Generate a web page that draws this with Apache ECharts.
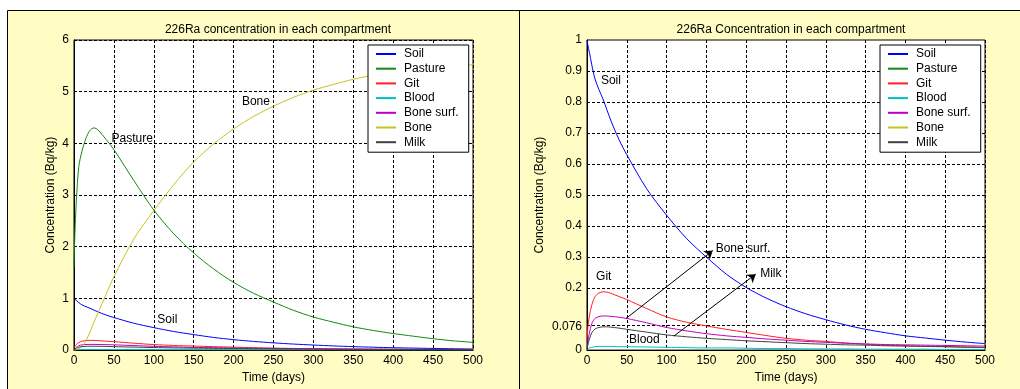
<!DOCTYPE html>
<html>
<head>
<meta charset="utf-8">
<script src="https://cdn.jsdelivr.net/npm/echarts@6/dist/echarts.min.js"></script>
<style>
  html, body { margin: 0; padding: 0; background: #fff; }
  #chart { width: 1020px; height: 389px; }
</style>
</head>
<body>
<div id="chart"></div>
<script>
// time axis (days)
var time = [0, 1, 3, 6, 10, 15, 20, 25, 30, 40, 50, 75, 100, 125, 150, 175, 200, 225, 250, 275, 300, 325, 350, 375, 400, 425, 450, 475, 500];

// concentrations (Bq/kg)
var soil     = [1.0, 0.985, 0.96, 0.92, 0.875, 0.84, 0.81, 0.775, 0.74, 0.68, 0.63, 0.52, 0.435, 0.36, 0.3, 0.245, 0.202, 0.168, 0.14, 0.117, 0.098, 0.081, 0.067, 0.056, 0.046, 0.039, 0.032, 0.026, 0.021];
var pasture  = [1.6, 2.2, 2.9, 3.55, 3.85, 4.1, 4.25, 4.3, 4.26, 4.08, 3.88, 3.28, 2.71, 2.25, 1.88, 1.57, 1.31, 1.1, 0.93, 0.77, 0.64, 0.54, 0.45, 0.38, 0.32, 0.27, 0.22, 0.18, 0.15];
var git      = [0.03, 0.07, 0.11, 0.145, 0.172, 0.184, 0.188, 0.187, 0.183, 0.173, 0.163, 0.134, 0.107, 0.09, 0.078, 0.067, 0.057, 0.047, 0.038, 0.032, 0.028, 0.023, 0.019, 0.016, 0.014, 0.012, 0.011, 0.009, 0.008];
var blood    = [0, 0.004, 0.007, 0.009, 0.011, 0.012, 0.012, 0.012, 0.012, 0.011, 0.011, 0.01, 0.009, 0.008, 0.007, 0.007, 0.006, 0.005, 0.005, 0.004, 0.004, 0.004, 0.003, 0.003, 0.003, 0.003, 0.002, 0.002, 0.002];
var boneSurf = [0.005, 0.025, 0.055, 0.085, 0.102, 0.108, 0.11, 0.11, 0.109, 0.106, 0.102, 0.088, 0.073, 0.062, 0.053, 0.046, 0.041, 0.036, 0.032, 0.028, 0.025, 0.022, 0.02, 0.018, 0.017, 0.016, 0.015, 0.014, 0.013];
var bone     = [0, 0, 0.01, 0.03, 0.07, 0.18, 0.35, 0.54, 0.72, 1.07, 1.42, 2.15, 2.7, 3.2, 3.64, 3.99, 4.28, 4.52, 4.72, 4.89, 5.03, 5.14, 5.24, 5.32, 5.38, 5.43, 5.47, 5.5, 5.52];
var milk     = [0.002, 0.015, 0.035, 0.056, 0.068, 0.073, 0.075, 0.075, 0.074, 0.071, 0.067, 0.058, 0.049, 0.043, 0.038, 0.034, 0.03, 0.027, 0.024, 0.021, 0.019, 0.017, 0.016, 0.014, 0.013, 0.012, 0.011, 0.01, 0.009];

var legendNames = ['Soil', 'Pasture', 'Git', 'Blood', 'Bone surf.', 'Bone', 'Milk'];
var rightYTicks = [0, 0.076, 0.2, 0.3, 0.4, 0.5, 0.6, 0.7, 0.8, 0.9, 1];

var colors = {
  'Soil': '#0000ff',
  'Pasture': '#138a13',
  'Git': '#ff2020',
  'Blood': '#00bfbf',
  'Bone surf.': '#c000c0',
  'Bone': '#c4c41a',
  'Milk': '#404040'
}

var font = 'Liberation Sans, Arial, sans-serif'
var dash = [3, 2]

function pairs (vals) {
  return time.map(function (t, i) { return [t, vals[i]] })
}

function line (name, vals, idx, extra) {
  var s = {
    name: name,
    type: 'line',
    xAxisIndex: idx,
    yAxisIndex: idx,
    data: pairs(vals),
    symbol: 'none',
    smooth: 0.3,
    clip: true,
    color: colors[name],
    itemStyle: { color: colors[name] },
    lineStyle: { width: 1, color: colors[name] }
  }
  return Object.assign(s, extra || {})
}

function note (items) {
  return {
    symbol: 'circle',
    symbolSize: 0,
    silent: true,
    label: {
      show: true,
      position: 'inside',
      color: '#000',
      fontSize: 12,
      fontFamily: font,
      formatter: function (p) { return p.name }
    },
    data: items
  }
}

var gridLine = { show: true, lineStyle: { color: '#000', width: 1, type: dash } }
var axisLabel = { color: '#000', fontSize: 12, fontFamily: font, margin: 5 }
var axisLine = { show: true, onZero: false, lineStyle: { color: '#000' } }

function legend (left) {
  return {
    data: legendNames,
    orient: 'vertical',
    left: left,
    top: 45,
    itemWidth: 20,
    itemHeight: 12,
    itemGap: 2.7,
    padding: [3, 10, 4, 7],
    backgroundColor: '#fff',
    borderColor: '#000',
    borderWidth: 1,
    selectedMode: false,
    itemStyle: { opacity: 0 },
    lineStyle: { width: 2 },
    textStyle: { color: '#000', fontSize: 12, fontFamily: font, padding: [0, 0, 0, 3] }
  }
}

var chart = echarts.init(document.getElementById('chart'))

var option = {
  animation: false,
  backgroundColor: '#fff',
  graphic: [
    { type: 'rect', z: -10, shape: { x: 7.5, y: 10.5, width: 1020, height: 390 }, style: { fill: '#fffdc4', stroke: '#000', lineWidth: 1 } },
    { type: 'line', z: -9, shape: { x1: 519.5, y1: 10, x2: 519.5, y2: 389 }, style: { stroke: '#000', lineWidth: 1 } }
  ],
  title: [
    { text: '226Ra concentration in each compartment', left: 273, top: 19, textAlign: 'center',
      textStyle: { fontSize: 12, fontWeight: 'normal', color: '#000', fontFamily: font } },
    { text: '226Ra Concentration in each compartment', left: 786, top: 19, textAlign: 'center',
      textStyle: { fontSize: 12, fontWeight: 'normal', color: '#000', fontFamily: font } }
  ],
  legend: [legend(368), legend(880)],
  grid: [
    { left: 74, top: 40, width: 399, height: 313, show: true, backgroundColor: '#fff', borderColor: '#000', borderWidth: 1 },
    { left: 587, top: 40, width: 398, height: 313, show: true, backgroundColor: '#fff', borderColor: '#000', borderWidth: 1 }
  ],
  xAxis: [0, 1].map(function (i) {
    return {
      type: 'value', gridIndex: i, min: 0, max: 500, interval: 50,
      name: 'Time (days)', nameLocation: 'middle', nameGap: 21,
      nameTextStyle: { color: '#000', fontSize: 12, fontFamily: font },
      axisLine: axisLine, axisTick: { show: false }, axisLabel: axisLabel, splitLine: gridLine
    }
  }),
  yAxis: [
    {
      type: 'value', gridIndex: 0, min: 0, max: 6, interval: 1,
      name: 'Concentration (Bq/kg)', nameLocation: 'middle', nameGap: 17,
      nameTextStyle: { color: '#000', fontSize: 12, fontFamily: font },
      axisLine: axisLine, axisTick: { show: false }, axisLabel: axisLabel, splitLine: gridLine
    },
    {
      type: 'value', gridIndex: 1, min: 0, max: 1,
      name: 'Concentration (Bq/kg)', nameLocation: 'middle', nameGap: 41,
      nameTextStyle: { color: '#000', fontSize: 12, fontFamily: font },
      axisLine: axisLine,
      axisTick: { show: false, customValues: rightYTicks },
      axisLabel: Object.assign({ customValues: rightYTicks }, axisLabel),
      splitLine: { show: false }
    }
  ],
  series: [
    line('Soil', soil, 0, { markPoint: note([
      { name: 'Pasture', coord: [73, 4.1] },
      { name: 'Bone', coord: [228, 4.81] },
      { name: 'Soil', coord: [117, 0.59] }
    ]) }),
    line('Pasture', pasture, 0),
    line('Git', git, 0),
    line('Blood', blood, 0),
    line('Bone surf.', boneSurf, 0),
    line('Bone', bone, 0),
    line('Milk', milk, 0),

    line('Soil', soil, 1, {
      markPoint: note([
        { name: 'Soil', coord: [30, 0.87] },
        { name: 'Git', coord: [21, 0.237] },
        { name: 'Blood', coord: [72, 0.032] },
        { name: 'Bone surf.', coord: [196, 0.328] },
        { name: 'Milk', coord: [231, 0.245] }
      ]),
      markLine: {
        silent: true,
        symbol: ['none', 'arrow'],
        symbolSize: 8,
        label: { show: false },
        lineStyle: { color: '#000', width: 1, type: 'solid' },
        data: [
          [{ coord: [49, 0.102] }, { coord: [158, 0.321] }],
          [{ coord: [109, 0.045] }, { coord: [212, 0.245] }]
        ]
      }
    }),
    line('Git', git, 1),
    line('Blood', blood, 1, {
      // horizontal grid lines at the irregular tick values
      markLine: {
        silent: true,
        z: 1,
        symbol: 'none',
        label: { show: false },
        lineStyle: { color: '#000', width: 1, type: dash },
        data: rightYTicks.slice(1, -1).map(function (v) { return { yAxis: v } })
      }
    }),
    line('Bone surf.', boneSurf, 1),
    line('Milk', milk, 1)
  ]
}

chart.setOption(option)
</script>
</body>
</html>
